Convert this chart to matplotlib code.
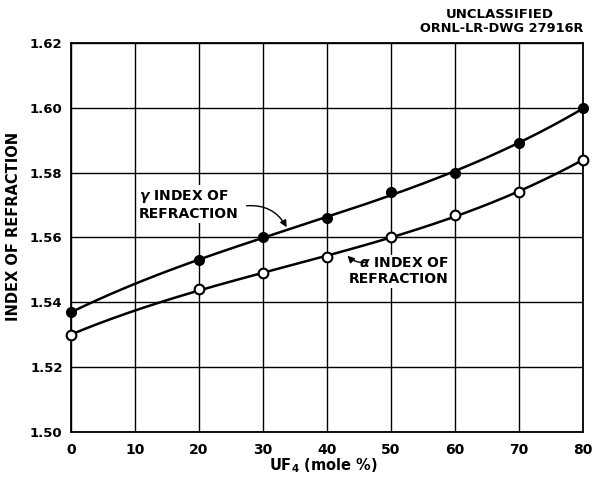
import numpy as np
import matplotlib
matplotlib.use("Agg")
import matplotlib.pyplot as plt
from matplotlib.patches import FancyArrowPatch

# UF4 content (mole %) and measured indices of refraction
uf4_mole_pct = [0, 20, 30, 40, 50, 60, 70, 80]
gamma_index = [1.537, 1.553, 1.560, 1.566, 1.574, 1.580, 1.589, 1.600]
alpha_index = [1.530, 1.544, 1.549, 1.554, 1.560, 1.567, 1.574, 1.584]

x_ticks = [0, 10, 20, 30, 40, 50, 60, 70, 80]
y_ticks = [1.50, 1.52, 1.54, 1.56, 1.58, 1.60, 1.62]

plt.rcParams['font.family'] = ['DejaVu Sans']
plt.rcParams['font.weight'] = 'bold'

fig = plt.figure(figsize=(5.93, 4.78), dpi=100)
ax = fig.add_axes([71 / 593, 1 - 432 / 478, 512 / 593, 389 / 478])

# smooth curves fitted through the measured points
xs = np.linspace(0, 80, 300)
for vals in (gamma_index, alpha_index):
    coef = np.polyfit(uf4_mole_pct, vals, 3)
    ax.plot(xs, np.polyval(coef, xs), color='black', lw=1.8, zorder=3)

ax.plot(uf4_mole_pct, gamma_index, 'o', ms=7, mfc='black', mec='black', zorder=4, clip_on=False)
ax.plot(uf4_mole_pct, alpha_index, 'o', ms=7, mfc='white', mec='black', mew=1.5, zorder=4, clip_on=False)

ax.set_xlim(0, 80)
ax.set_ylim(1.50, 1.62)
ax.set_xticks(x_ticks)
ax.set_yticks(y_ticks)
ax.set_yticklabels([f"{v:.2f}" for v in y_ticks])
ax.tick_params(length=0)
ax.tick_params(axis='x', labelsize=10, pad=8)
ax.tick_params(axis='y', labelsize=9.5, pad=6)
ax.grid(True, color='black', lw=1.0)
for s in ax.spines.values():
    s.set_linewidth(1.3)

fig.text(323 / 593, 1 - 466 / 478, "UF$_4$ (mole %)", ha='center', va='center',
         fontsize=10.5, fontweight='bold')
fig.text(14 / 593, 1 - 226 / 478, "INDEX OF REFRACTION", ha='center', va='center',
         rotation=90, fontsize=10.5, fontweight='bold')

# curve labels with leader arrows
ax.text(10.6, 1.5701, "$\\gamma$ INDEX OF\nREFRACTION", fontsize=10, fontweight='bold',
        ha='left', va='center', linespacing=1.2,
        bbox=dict(fc='white', ec='none', pad=1), zorder=5)
ax.add_patch(FancyArrowPatch((27.0, 1.5697), (33.9, 1.5624), arrowstyle='-|>',
                             mutation_scale=10, color='black', lw=1.0,
                             connectionstyle='arc3,rad=-0.35', zorder=5))

ax.text(43.4, 1.5496, "$\\alpha$ INDEX OF\nREFRACTION", fontsize=10, fontweight='bold',
        ha='left', va='center', linespacing=1.2, multialignment='right',
        bbox=dict(fc='white', ec='none', pad=1), zorder=5)
ax.add_patch(FancyArrowPatch((46.6, 1.5525), (42.9, 1.5550), arrowstyle='-|>',
                             mutation_scale=10, color='black', lw=1.0,
                             connectionstyle='arc3,rad=-0.3', zorder=5))

fig.text(500 / 593, 1 - 15 / 478, "UNCLASSIFIED", ha='center', va='center',
         fontsize=9.5, fontweight='bold')
fig.text(583 / 593, 1 - 29 / 478, "ORNL-LR-DWG 27916R", ha='right', va='center',
         fontsize=9.3, fontweight='bold')

fig.savefig("out.png", dpi=100)
